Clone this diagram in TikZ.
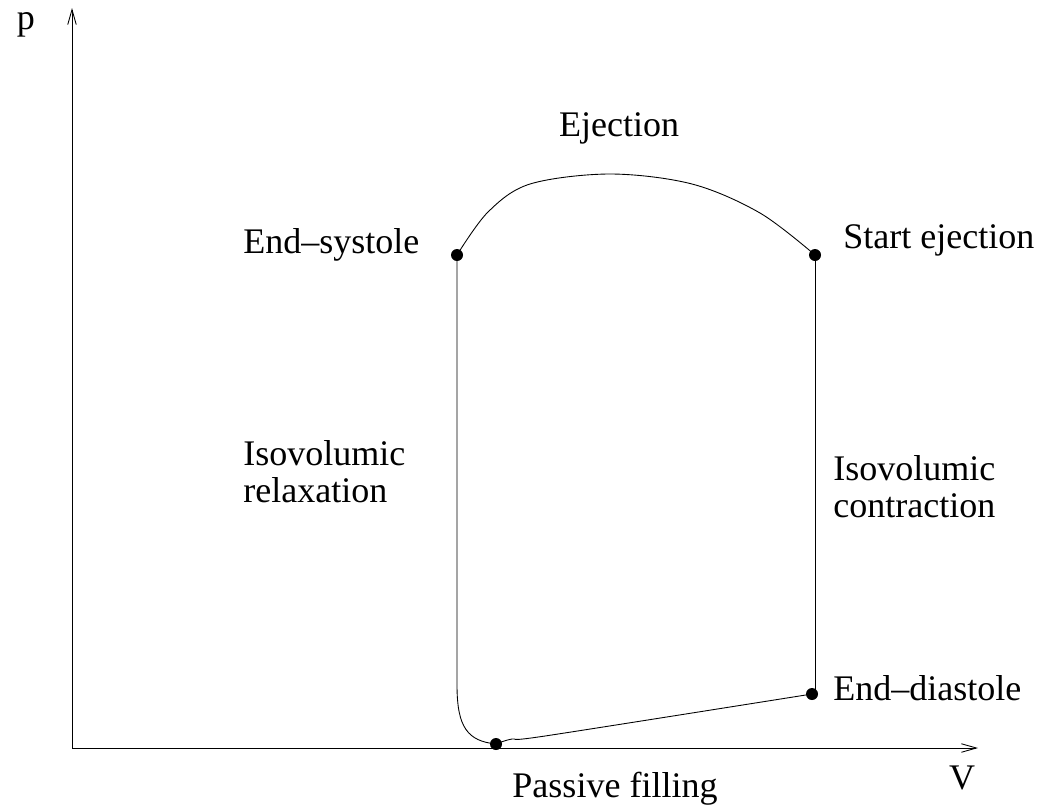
\documentclass[tikz,border=0pt]{standalone}
\usepackage{fontspec}
\setmainfont{Liberation Serif}
\usetikzlibrary{arrows.meta}

\tikzset{
  dot/.style={circle,fill=black,inner sep=0pt,minimum size=0.24cm},
  lbl/.style={font=\fontsize{20.5}{21}\selectfont,inner sep=0pt},
  axis/.style={line width=0.5pt,-{Straight Barb[length=0.3cm,width=0.17cm]}},
  loop/.style={line width=0.5pt}
}

\begin{document}
\begin{tikzpicture}[x=0.02cm,y=-0.02cm]
    \useasboundingbox (0,0) rectangle (1040,809);

    % Axes
      \coordinate (O) at (72,748);
      \coordinate (ytip) at (72,8);
      \coordinate (xtip) at (978,748);
      \draw[axis] (O) -- (ytip);
      \draw[axis] (O) -- (xtip);
      \node[lbl] (p) at (26,25) {p};
      \node[lbl] (V) at (962,778) {V};

    % Points
      \node[dot] (es) at (457,255) {};
      \node[dot] (se) at (815,255) {};
      \node[dot] (ed) at (812,694) {};
      \node[dot] (pf) at (496,744) {};

    % Loop
      \draw[loop] plot[smooth,tension=0.55] coordinates
        {(es.center) (488,212) (530,184) (610,174) (692,184) (760,213) (se.center)};
      \draw[loop] (se.center) -- (815,694) -- (ed.center);
      \draw[loop] plot[smooth,tension=0.5] coordinates
        {(pf.center) (512,739) (545,736) (ed.center)};
      \draw[loop] (es.center) -- (457,685)
        .. controls (457,728) and (468,741) .. (pf.center);

    % Labels
      \node[lbl] (ej) at (619,128) {Ejection};
      \node[lbl,anchor=west] (esl) at (243,245) {End--systole};
      \node[lbl,anchor=west] (sel) at (843,240) {Start ejection};
      \node[lbl,anchor=north west,align=left] (ir) at (243,440)
        {Isovolumic\\relaxation};
      \node[lbl,anchor=north west,align=left] (ic) at (833,455)
        {Isovolumic\\contraction};
      \node[lbl,anchor=west] (edl) at (833,688) {End--diastole};
      \node[lbl] (pfl) at (615,789) {Passive filling};
  \end{tikzpicture}
\end{document}
